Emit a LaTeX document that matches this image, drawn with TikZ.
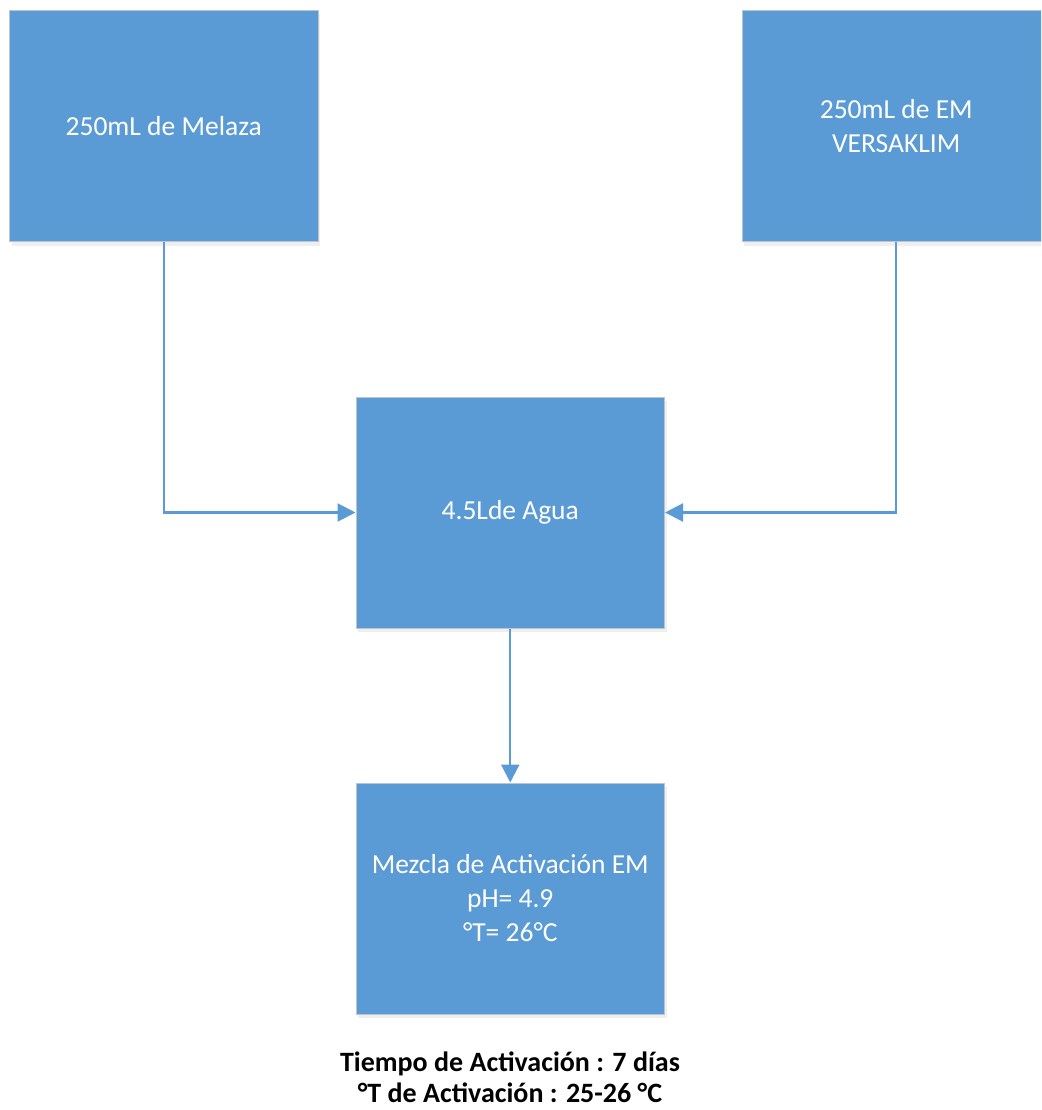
\documentclass[tikz,border=0pt]{standalone}
\usepackage{fontspec}
\setmainfont{Carlito}
\usepackage{tikz}
\usetikzlibrary{arrows.meta,positioning,shadows}
\definecolor{boxblue}{RGB}{91,155,213}
\definecolor{boxedge}{RGB}{190,196,204}

\begin{document}
\begin{tikzpicture}[x=1pt,y=-1pt,font=\fontsize{27.5}{34}\selectfont,
  flow/.style={-{Triangle[length=18pt,width=18pt]},line width=2.2pt,draw=boxblue},
  stage/.style={draw=boxedge,line width=1pt,fill=boxblue,text=white,minimum width=308.5pt,minimum height=231pt,inner sep=2pt,align=center,
    drop shadow={opacity=.12,shadow xshift=2pt,shadow yshift=-4pt}},
  note/.style={font=\bfseries\fontsize{28}{31}\selectfont,align=center,inner sep=0pt}]
\fill[white] (0,0) rectangle (1041,1110);
\useasboundingbox (0,0) rectangle (1041,1110);
\begin{scope}
\clip (0,0) rectangle (1041,1110);
\node[stage] (melaza) at (163.75,126) {250mL de Melaza};
\node[stage] (em) at (896.25,126) {250mL de EM\\VERSAKLIM};
\node[stage] (agua) at (510.25,512.5) {4.5Lde Agua};
\node[stage] (mezcla) at (510.25,898.5) {Mezcla de Activación EM\\pH= 4.9\\°T= 26°C};
\end{scope}
\draw[flow] (melaza.south) |- (agua.west);
\draw[flow] (em.south) |- (agua.east);
\draw[flow] (agua.south) -- (mezcla.north);
\node[note] (nota) at (510,1077) {Tiempo de Activación : 7 días\\°T de Activación : 25-26 °C};
\end{tikzpicture}
\end{document}
